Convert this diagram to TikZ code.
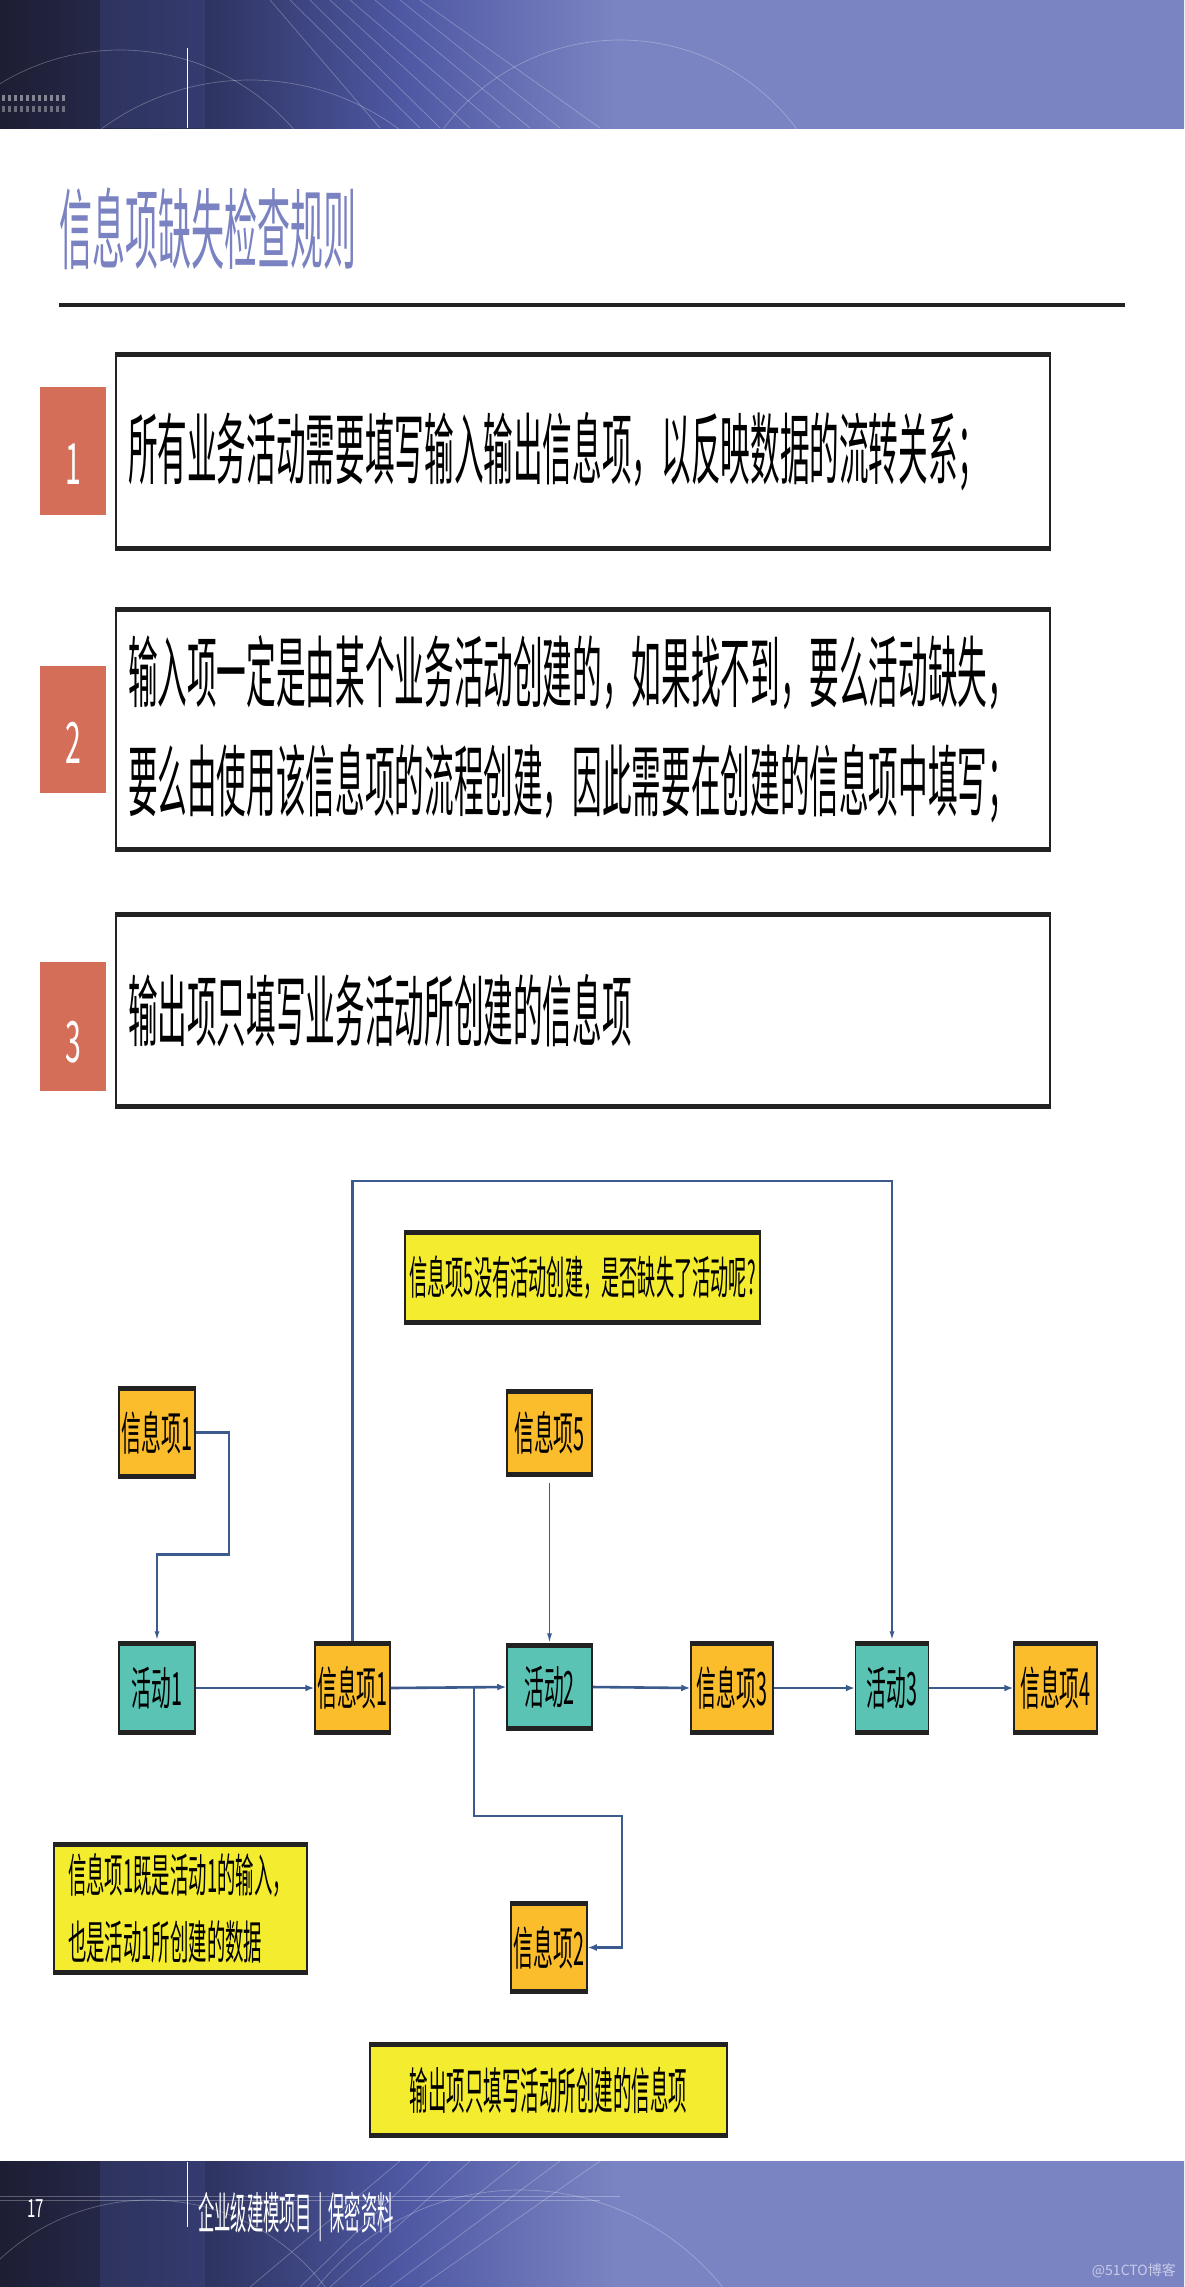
\documentclass[tikz,border=0pt]{standalone}
\usepackage{fontspec}
\setmainfont{Noto Sans CJK SC}
\usepackage{graphicx}
\usetikzlibrary{arrows.meta,calc}
\definecolor{hdark}{HTML}{1D1E33}
\definecolor{hdarkb}{HTML}{2B305A}
\definecolor{hmid}{HTML}{4E58A3}
\definecolor{hblue}{HTML}{7B84C2}
\definecolor{titlec}{HTML}{7A82C2}
\definecolor{bandc}{HTML}{222222}
\definecolor{tabc}{HTML}{D46E58}
\definecolor{actc}{HTML}{5BC3B3}
\definecolor{infoc}{HTML}{FBBD2B}
\definecolor{notec}{HTML}{F4EC2E}
\definecolor{connc}{HTML}{3B5A8E}
\definecolor{wmc}{HTML}{C9CCE8}
\pgfdeclarehorizontalshading{hdrshade}{100bp}{color(0bp)=(hdark); color(25bp)=(hdark); color(33bp)=(hdarkb); color(42bp)=(hmid); color(51bp)=(hblue); color(100bp)=(hblue)}
\newcommand{\nar}[2]{\scalebox{#1}[1]{#2}}
\begin{document}
\begin{tikzpicture}[x=1pt,y=-1pt,
  bandbox/.style={draw=bandc, line width=1.5pt, inner sep=0pt,
    path picture={
      \fill[bandc] (path picture bounding box.north west) rectangle ([yshift=-4pt]path picture bounding box.north east);
      \fill[bandc] (path picture bounding box.south west) rectangle ([yshift=4pt]path picture bounding box.south east);}},
  bigbox/.style={bandbox, fill=white, text width=910pt, inner xsep=12pt, align=left,
    font=\fontsize{78}{109}\selectfont},
  tabbox/.style={fill=tabc, minimum width=66pt, inner sep=0pt},
  numtxt/.style={text=white, inner sep=0pt, font=\fontsize{57}{60}\selectfont},
  small/.style={bandbox, font=\fontsize{46}{50}\selectfont},
  act/.style={small, fill=actc},
  info/.style={small, fill=infoc},
  note/.style={bandbox, fill=notec},
  conn/.style={draw=connc, line width=2.2pt},
  hconn/.style={draw=connc, line width=2.6pt, -{Latex[length=9pt,width=7pt]}},
  vconn/.style={draw=connc, line width=1.6pt, -{Latex[length=10pt,width=5pt]}},
  streak/.style={white, opacity=0.28, line width=0.7pt}
]
\useasboundingbox (0,0) rectangle (1184,2287);
\fill[white] (0,0) rectangle (1184,2287);

% header band
\shade[shading=hdrshade] (0,0) rectangle (1184,128);
\begin{scope}
  \clip (0,0) rectangle (1184,128);
  \fill[hmid, opacity=0.25] (100,0) rectangle (205,128);
  \foreach \a/\b in {270/380,290/420,310/440,330/470,350/500,375/530,400/560,420/600}
    \draw[streak] (\a,0) -- (\b,128);
  \draw[streak] (250,330) circle (250);
  \draw[streak] (120,280) circle (230);
  \draw[streak] (620,260) circle (220);
  \foreach \i in {0,...,10} {
    \fill[white, opacity=0.45] (\i*6+2,95) rectangle ++(3,6);
    \fill[white, opacity=0.35] (\i*6+2,106) rectangle ++(3,6);
  }
\end{scope}
\draw[white, line width=1pt] (187,48) -- (187,128);

% title
\node[anchor=west, text=titlec, inner sep=0pt, font=\fontsize{88}{90}\selectfont] (title) at (59,229)
  {\nar{0.375}{信息项缺失检查规则}};
\draw[bandc, line width=4pt] (59,305) -- (1125,305);

% rule boxes
\node[bigbox, minimum height=197pt] (r1) at (583,451.5)
  {\nar{0.38}{所有业务活动需要填写输入输出信息项，以反映数据的流转关系；}};
\node[bigbox, minimum height=243pt] (r2) at (583,729.5)
  {\nar{0.38}{输入项一定是由某个业务活动创建的，如果找不到，要么活动缺失，}\\
   \nar{0.38}{要么由使用该信息项的流程创建，因此需要在创建的信息项中填写；}};
\node[bigbox, minimum height=195pt] (r3) at (583,1010.5)
  {\nar{0.38}{输出项只填写业务活动所创建的信息项}};

\node[tabbox, minimum height=128pt] (t1) at (73,451) {};
\node[tabbox, minimum height=127pt] (t2) at (73,729.5) {};
\node[tabbox, minimum height=129pt] (t3) at (73,1026.5) {};
\node[numtxt] (n1) at (73,464) {\nar{0.5}{1}};
\node[numtxt] (n2) at (73,743) {\nar{0.5}{2}};
\node[numtxt] (n3) at (73,1042) {\nar{0.5}{3}};

% diagram
\node[note, minimum width=355pt, minimum height=93pt, font=\fontsize{45.5}{48}\selectfont] (q) at (582.5,1277.5)
  {\nar{0.40}{信息项5没有活动创建，是否缺失了活动呢?}};
\node[info, minimum width=76pt, minimum height=91pt] (ia) at (157,1432.5) {\nar{0.43}{信息项1}};
\node[info, minimum width=85pt, minimum height=86pt] (i5) at (549.5,1433) {\nar{0.43}{信息项5}};
\node[act, minimum width=76pt, minimum height=92pt] (a1) at (157,1688) {\nar{0.43}{活动1}};
\node[info, minimum width=75pt, minimum height=92pt] (i1) at (352.5,1688) {\nar{0.43}{信息项1}};
\node[act, minimum width=85pt, minimum height=86pt] (a2) at (549.5,1687) {\nar{0.43}{活动2}};
\node[info, minimum width=82pt, minimum height=92pt] (i3) at (732,1688) {\nar{0.43}{信息项3}};
\node[act, minimum width=73pt, minimum height=92pt] (a3) at (892,1688) {\nar{0.43}{活动3}};
\node[info, minimum width=83pt, minimum height=92pt] (i4) at (1055.5,1688) {\nar{0.43}{信息项4}};
\node[info, minimum width=76pt, minimum height=91pt] (i2) at (549,1947.5) {\nar{0.43}{信息项2}};
\node[note, minimum width=253pt, minimum height=131pt, text width=225pt, inner xsep=14pt, align=left,
  font=\fontsize{46}{67}\selectfont] (nb) at (180.5,1908.5)
  {\nar{0.40}{信息项1既是活动1的输入，}\\\nar{0.40}{也是活动1所创建的数据}};
\node[note, minimum width=357pt, minimum height=94pt, font=\fontsize{50}{52}\selectfont] (ob) at (548.5,2090)
  {\nar{0.37}{输出项只填写活动所创建的信息项}};

% connectors
\coordinate (top) at (892,1181);
\coordinate (j) at (474,1688);
\draw[conn, -{Latex[length=10pt,width=5pt]}] (i1.north) |- (top) -- (a3.north);
\draw[conn, -{Latex[length=10pt,width=5pt]}] (ia.east) -| ($(ia.east)+(33,122)$) -| (a1.north);
\draw[vconn, shorten <=6pt] (i5.south) -- (a2.north);
\draw[hconn] (a1.east) -- (i1.west);
\draw[hconn] (i1.east) -- (a2.west);
\draw[hconn] (a2.east) -- (i3.west);
\draw[hconn] (i3.east) -- (a3.west);
\draw[hconn] (a3.east) -- (i4.west);
\draw[conn, -{Latex[length=9pt,width=7pt]}] (j) -- ++(0,128) -| ($(i2.east)+(34,0)$) -- (i2.east);

% footer band
\shade[shading=hdrshade] (0,2161) rectangle (1184,2287);
\begin{scope}
  \clip (0,2161) rectangle (1184,2287);
  \fill[hmid, opacity=0.25] (100,2161) rectangle (205,2287);
  \foreach \a/\b in {250/400,300/430,330/470,360/520,390/560,420/600}
    \draw[streak] (\a,2287) -- (\b,2161);
  \draw[streak] (0,2196) -- (620,2196);
  \draw[streak] (0,2200) -- (600,2200);
  \draw[streak] (150,2420) circle (220);
  \draw[streak] (520,2450) circle (260);
\end{scope}
\draw[white, line width=1pt] (187,2162) -- (187,2227);
\node[text=white, inner sep=0pt, font=\fontsize{25}{27}\selectfont] (pg) at (35.5,2209) {\nar{0.6}{17}};
\node[anchor=west, text=white, inner sep=0pt, font=\fontsize{44}{46}\selectfont] (ft) at (198,2217)
  {\nar{0.37}{企业级建模项目\makebox[1em]{|}保密资料}};
\node[anchor=east, text=wmc, inner sep=0pt, font=\fontsize{14}{16}\selectfont] (wm) at (1176,2271) {@51CTO博客};
\end{tikzpicture}
\end{document}
